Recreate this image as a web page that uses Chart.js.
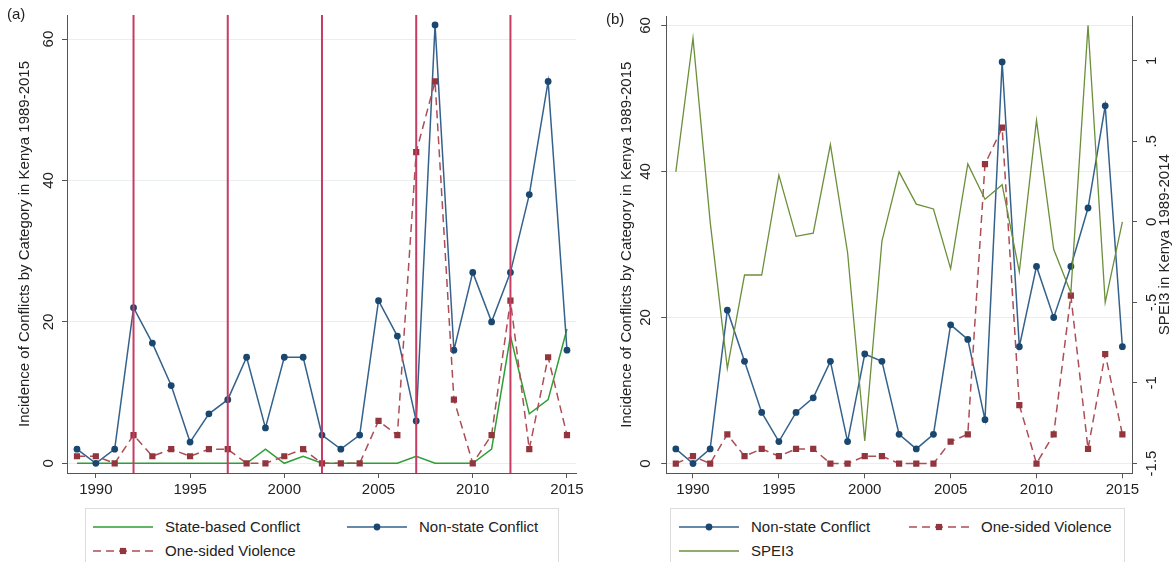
<!DOCTYPE html>
<html>
<head>
<meta charset="utf-8">
<script src="https://cdn.jsdelivr.net/npm/chart.js@4"></script>
<style>
  html, body { margin: 0; padding: 0; background: #fff; }
  body { position: relative; width: 1173px; height: 562px; overflow: hidden;
         font-family: "Liberation Sans", Arial, sans-serif; color: #222; }
  canvas { position: absolute; top: 0; }
  .tag { position: absolute; font-size: 15px; line-height: 18px; }
  .legend { position: absolute; top: 508px; height: 70px; border: 1px solid #dcdcdc; box-sizing: border-box; }
  .item { position: absolute; display: flex; align-items: center; font-size: 15px; white-space: nowrap; }
  .item svg { margin-right: 12px; }
</style>
</head>
<body>
<canvas id="chartA" width="590" height="505" style="left:0"></canvas>
<canvas id="chartB" width="583" height="505" style="left:590px"></canvas>
<div class="tag" style="left:7px; top:5px">(a)</div>
<div class="tag" style="left:606px; top:10px">(b)</div>
<div class="legend" id="legA" style="left:85px; width:474px"></div>
<div class="legend" id="legB" style="left:670px; width:455px"></div>

<script>
'use strict';

// ── Data ──
const YEARS = [1989, 1990, 1991, 1992, 1993, 1994, 1995, 1996, 1997, 1998, 1999, 2000, 2001, 2002,
               2003, 2004, 2005, 2006, 2007, 2008, 2009, 2010, 2011, 2012, 2013, 2014, 2015];

// panel (a)
const A_STATE     = [0, 0, 0, 0, 0, 0, 0, 0, 0, 0, 2, 0, 1, 0, 0, 0, 0, 0, 1, 0, 0, 0, 2, 18, 7, 9, 19];
const A_NONSTATE  = [2, 0, 2, 22, 17, 11, 3, 7, 9, 15, 5, 15, 15, 4, 2, 4, 23, 18, 6, 62, 16, 27, 20, 27, 38, 54, 16];
const A_ONESIDED  = [1, 1, 0, 4, 1, 2, 1, 2, 2, 0, 0, 1, 2, 0, 0, 0, 6, 4, 44, 54, 9, 0, 4, 23, 2, 15, 4];
const ELECTION_YEARS = [1992, 1997, 2002, 2007, 2012];

// panel (b)
const B_NONSTATE  = [2, 0, 2, 21, 14, 7, 3, 7, 9, 14, 3, 15, 14, 4, 2, 4, 19, 17, 6, 55, 16, 27, 20, 27, 35, 49, 16];
const B_ONESIDED  = [0, 1, 0, 4, 1, 2, 1, 2, 2, 0, 0, 1, 1, 0, 0, 0, 3, 4, 41, 46, 8, 0, 4, 23, 2, 15, 4];
const B_SPEI      = [0.31, 1.14, 0.0, -0.91, -0.33, -0.33, 0.29, -0.09, -0.07, 0.48, -0.19, -1.36, -0.12, 0.31,
                     0.11, 0.08, -0.29, 0.36, 0.14, 0.23, -0.31, 0.63, -0.17, -0.44, 1.22, -0.5, 0.0];

// ticks
const X_TICKS = [1990, 1995, 2000, 2005, 2010, 2015];
const Y_TICKS = [0, 20, 40, 60];
const Y_LABELS = ['0', '20', '40', '60'];
const R_TICKS = [-1.5, -1, -0.5, 0, 0.5, 1];
const R_LABELS = ['-1.5', '-1', '-.5', '0', '.5', '1'];

// labels
const LBL_STATE = 'State-based Conflict';
const LBL_NONSTATE = 'Non-state Conflict';
const LBL_ONESIDED = 'One-sided Violence';
const LBL_SPEI = 'SPEI3';
const TITLE_LEFT = 'Incidence of Conflicts by Category in Kenya 1989-2015';
const TITLE_RIGHT = 'SPEI3 in Kenya 1989-2014';

// ── Styles ──
const FONT = '"Liberation Sans", Arial, sans-serif';
const C = {
  navy: '#1a476f', navyLine: '#34628d',
  maroon: '#93353d', maroonLine: '#ad4d56',
  green: '#2f9e35', olive: '#6b8f3a',
  election: '#c73c63',
  axis: '#555', grid: '#e9eef0', text: '#222',
};

const pts = (arr) => YEARS.map((yr, i) => ({ x: yr, y: arr[i] }));
const fixTicks = (vals) => (s) => { s.ticks = vals.map((v) => ({ value: v })); };

// ── Plugins ──
// rotated y tick labels and axis titles (Stata style, reading bottom-to-top)
function makeAxisText(axes) {
  return {
    id: 'axisText',
    afterDraw(chart) {
      const { ctx, chartArea } = chart;
      ctx.save();
      ctx.fillStyle = C.text;
      ctx.font = '15px ' + FONT;
      ctx.textAlign = 'center';
      ctx.textBaseline = 'middle';
      axes.forEach((a) => {
        const s = chart.scales[a.id];
        const edge = a.side === 'left' ? chartArea.left : chartArea.right;
        const dir = a.side === 'left' ? -1 : 1;
        s.ticks.forEach((t, i) => {
          ctx.save();
          ctx.translate(edge + dir * a.tickGap, s.getPixelForValue(t.value));
          ctx.rotate(-Math.PI / 2);
          ctx.fillText(a.labels[i], 0, 0);
          ctx.restore();
        });
        ctx.save();
        ctx.translate(edge + dir * a.titleGap, (chartArea.top + chartArea.bottom) / 2);
        ctx.rotate(-Math.PI / 2);
        ctx.fillText(a.title, 0, 0);
        ctx.restore();
      });
      ctx.restore();
    },
  };
}

// vertical election lines
const electionLines = {
  id: 'electionLines',
  afterDatasetsDraw(chart) {
    const { ctx, chartArea, scales } = chart;
    ctx.save();
    ctx.strokeStyle = C.election;
    ctx.lineWidth = 2;
    ELECTION_YEARS.forEach((yr) => {
      const x = scales.x.getPixelForValue(yr);
      ctx.beginPath();
      ctx.moveTo(x, chartArea.top);
      ctx.lineTo(x, chartArea.bottom);
      ctx.stroke();
    });
    ctx.restore();
  },
};

// ── Shared scale pieces ──
function xScale(min, max, h) {
  return {
    type: 'linear', min, max,
    afterBuildTicks: fixTicks(X_TICKS),
    afterFit: (s) => { s.height = h; s.paddingLeft = 0; s.paddingRight = 0; },
    ticks: { color: C.text, font: { size: 15, family: FONT }, padding: 3, maxRotation: 0, autoSkip: false,
             callback: (v) => String(v) },
    grid: { drawOnChartArea: false, drawTicks: true, tickLength: 5, tickColor: C.axis },
    border: { display: true, color: C.axis, width: 1 },
  };
}

function yScale(min, max, w, ticks, pos, onArea) {
  return {
    type: 'linear', position: pos, min, max,
    afterBuildTicks: fixTicks(ticks),
    afterFit: (s) => { s.width = w; s.paddingTop = 0; s.paddingBottom = 0; },
    ticks: { display: false },
    grid: { drawOnChartArea: onArea, color: C.grid, lineWidth: 1, drawTicks: true, tickLength: 5, tickColor: C.axis },
    border: { display: true, color: C.axis, width: 1 },
  };
}

const lineDefaults = { tension: 0, fill: false, pointBorderWidth: 0, pointHoverRadius: 0 };

Chart.defaults.font.family = FONT;

// ── Panel (a) ──
new Chart(document.getElementById('chartA'), {
  type: 'line',
  data: {
    datasets: [
      Object.assign({}, lineDefaults, {
        label: LBL_STATE, data: pts(A_STATE), borderColor: C.green, borderWidth: 1.5, pointRadius: 0, order: 2,
      }),
      Object.assign({}, lineDefaults, {
        label: LBL_NONSTATE, data: pts(A_NONSTATE), borderColor: C.navyLine, borderWidth: 1.5,
        pointRadius: 3.4, pointBackgroundColor: C.navy, pointBorderColor: C.navy, order: 1,
      }),
      Object.assign({}, lineDefaults, {
        label: LBL_ONESIDED, data: pts(A_ONESIDED), borderColor: C.maroonLine, borderWidth: 1.5, borderDash: [8, 5],
        pointStyle: 'rect', pointRadius: 4.4, pointBackgroundColor: C.maroon, pointBorderColor: C.maroon, order: 0,
      }),
    ],
  },
  options: {
    responsive: false, animation: false, events: [],
    layout: { padding: { top: 15, right: 13.6, left: 0, bottom: 0 } },
    plugins: { legend: { display: false }, tooltip: { enabled: false } },
    scales: {
      x: xScale(1988.47, 2015.5, 32),
      y: yScale(-1.37, 63.4, 67, Y_TICKS, 'left', true),
    },
  },
  plugins: [
    electionLines,
    makeAxisText([{ id: 'y', side: 'left', labels: Y_LABELS, tickGap: 18, title: TITLE_LEFT, titleGap: 42.5 }]),
  ],
});

// ── Panel (b) ──
new Chart(document.getElementById('chartB'), {
  type: 'line',
  data: {
    datasets: [
      Object.assign({}, lineDefaults, {
        label: LBL_NONSTATE, data: pts(B_NONSTATE), yAxisID: 'y', borderColor: C.navyLine, borderWidth: 1.5,
        pointRadius: 3.4, pointBackgroundColor: C.navy, pointBorderColor: C.navy, order: 2,
      }),
      Object.assign({}, lineDefaults, {
        label: LBL_ONESIDED, data: pts(B_ONESIDED), yAxisID: 'y', borderColor: C.maroonLine, borderWidth: 1.5,
        borderDash: [8, 5], pointStyle: 'rect', pointRadius: 4.4, pointBackgroundColor: C.maroon,
        pointBorderColor: C.maroon, order: 1,
      }),
      Object.assign({}, lineDefaults, {
        label: LBL_SPEI, data: pts(B_SPEI), yAxisID: 'y2', borderColor: C.olive, borderWidth: 1.3,
        pointRadius: 0, order: 0,
      }),
    ],
  },
  options: {
    responsive: false, animation: false, events: [],
    layout: { padding: { top: 16, right: 0, left: 0, bottom: 0 } },
    plugins: { legend: { display: false }, tooltip: { enabled: false } },
    scales: {
      x: xScale(1988.44, 2015.56, 31.7),
      y: yScale(-1.34, 61.3, 76.2, Y_TICKS, 'left', true),
      y2: yScale(-1.561, 1.278, 41, R_TICKS, 'right', false),
    },
  },
  plugins: [
    makeAxisText([
      { id: 'y', side: 'left', labels: Y_LABELS, tickGap: 20, title: TITLE_LEFT, titleGap: 39 },
      { id: 'y2', side: 'right', labels: R_LABELS, tickGap: 20, title: TITLE_RIGHT, titleGap: 33 },
    ]),
  ],
});

// ── Legends (Stata-style boxed keys) ──
function symbol(color, markColor, dash, marker) {
  let svg = '<svg width="60" height="14" viewBox="0 0 60 14">' +
    '<line x1="0" y1="7" x2="60" y2="7" stroke="' + color + '" stroke-width="1.5"' +
    (dash ? ' stroke-dasharray="' + dash + '"' : '') + '/>';
  if (marker === 'circle') svg += '<circle cx="30" cy="7" r="3.4" fill="' + markColor + '"/>';
  if (marker === 'rect') svg += '<rect x="26.9" y="3.9" width="6.2" height="6.2" fill="' + markColor + '"/>';
  return svg + '</svg>';
}

function addItem(box, left, centerY, text, sym) {
  const el = document.createElement('div');
  el.className = 'item';
  el.style.left = left + 'px';
  el.style.top = (centerY - 9) + 'px';
  el.style.height = '18px';
  el.innerHTML = sym + '<span>' + text + '</span>';
  box.appendChild(el);
}

const SYM_STATE = symbol(C.green, null, null, null);
const SYM_NONSTATE = symbol(C.navyLine, C.navy, null, 'circle');
const SYM_ONESIDED = symbol(C.maroonLine, C.maroon, '8 5', 'rect');
const SYM_SPEI = symbol(C.olive, null, null, null);

const legA = document.getElementById('legA');
addItem(legA, 7, 17.5, LBL_STATE, SYM_STATE);
addItem(legA, 261, 17.5, LBL_NONSTATE, SYM_NONSTATE);
addItem(legA, 7, 41.5, LBL_ONESIDED, SYM_ONESIDED);

const legB = document.getElementById('legB');
addItem(legB, 8, 17.5, LBL_NONSTATE, SYM_NONSTATE);
addItem(legB, 238, 17.5, LBL_ONESIDED, SYM_ONESIDED);
addItem(legB, 8, 41.5, LBL_SPEI, SYM_SPEI);
</script>
</body>
</html>
